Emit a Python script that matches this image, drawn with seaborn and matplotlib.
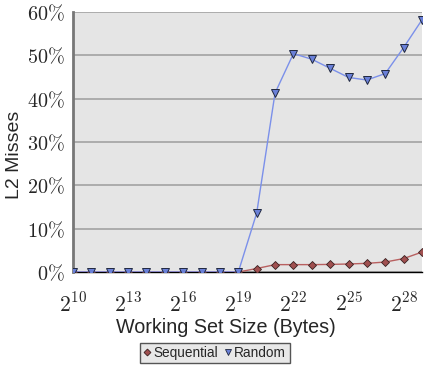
import matplotlib
matplotlib.use("Agg")
import matplotlib.pyplot as plt
import matplotlib.ticker as mticker
import seaborn as sns
import pandas as pd
import numpy as np

exponents = list(range(10, 30))
sequential = [0, 0, 0, 0, 0, 0, 0, 0, 0, 0,
              0.8, 1.7, 1.7, 1.7, 1.75, 1.85, 2.0, 2.3, 3.1, 4.6]
random_ = [0, 0, 0, 0, 0, 0, 0, 0, 0, 0,
           13.6, 41.3, 50.4, 49.1, 47.0, 44.9, 44.3, 45.8, 51.8, 58.2]
major_exps = [10, 13, 16, 19, 22, 25, 28]
y_ticks = [0, 10, 20, 30, 40, 50, 60]

sns.set_style("white")
plt.rcParams['mathtext.fontset'] = 'cm'
plt.rcParams['font.family'] = ['Liberation Sans', 'DejaVu Sans']

sizes = [2.0 ** e for e in exponents]
df_seq = pd.DataFrame({"size": sizes, "miss": sequential})
df_rnd = pd.DataFrame({"size": sizes, "miss": random_})

fig = plt.figure(figsize=(4.32, 3.74), dpi=100)
ax = fig.add_axes([73 / 432, 1 - 272 / 374, 349 / 432, 260 / 374])
ax.set_facecolor("#e5e5e5")

sns.lineplot(data=df_seq, x="size", y="miss", ax=ax, color="#b86060", lw=1,
             marker="D", markersize=4, markerfacecolor="#a05050",
             markeredgecolor="#3a2020", markeredgewidth=0.6, label="Sequential",
             zorder=3)
sns.lineplot(data=df_rnd, x="size", y="miss", ax=ax, color="#7b90ea", lw=1,
             marker="v", markersize=5.5, markerfacecolor="#6a80d8",
             markeredgecolor="#202840", markeredgewidth=0.7, label="Random",
             zorder=4)

ax.set_xscale("log", base=2)
ax.set_xlim(2.0 ** 10, 2.0 ** 29)
ax.set_ylim(0, 60)
ax.set_xticks([2.0 ** e for e in major_exps])
ax.set_xticklabels([r"$2^{%d}$" % e for e in major_exps], fontsize=15.5)
ax.xaxis.set_minor_locator(mticker.FixedLocator([2.0 ** e for e in exponents]))
ax.xaxis.set_minor_formatter(mticker.NullFormatter())
ax.set_yticks(y_ticks)
ax.set_yticklabels([r"$%d\%%$" % v for v in y_ticks], fontsize=14.5)

ax.tick_params(axis="x", which="major", direction="out", length=12, width=1.5,
               color="#222222", pad=3)
ax.tick_params(axis="x", which="minor", direction="out", length=6, width=1.2,
               color="#222222")
ax.tick_params(axis="y", length=0, pad=6)

ax.yaxis.grid(True, color="#a8a8a8", lw=1.3)
ax.set_axisbelow(True)
for s in ["top", "right"]:
    ax.spines[s].set_visible(False)
ax.spines["left"].set_color("#777777")
ax.spines["left"].set_linewidth(2)
ax.spines["bottom"].set_color("#000000")
ax.spines["bottom"].set_linewidth(1)
ax.spines["bottom"].set_zorder(2)

ax.set_xlabel("Working Set Size (Bytes)", fontsize=14.2, labelpad=1, x=0.438)
ax.set_ylabel("L2 Misses", fontsize=14, labelpad=3, y=0.45)

handles = [
    plt.Line2D([], [], ls="none", marker="D", markersize=3.5, markerfacecolor="#a05050",
               markeredgecolor="#3a2020", markeredgewidth=0.6),
    plt.Line2D([], [], ls="none", marker="v", markersize=5, markerfacecolor="#6a80d8",
               markeredgecolor="#202840", markeredgewidth=0.6),
]
leg = ax.legend(handles, ["Sequential", "Random"], loc="center",
                bbox_to_anchor=(215 / 432, 1 - 353 / 374), bbox_transform=fig.transFigure,
                ncol=2, frameon=True, fancybox=False, fontsize=9.8,
                handlelength=0.5, handletextpad=0.2, columnspacing=0.5,
                borderpad=0.25, borderaxespad=0)
leg.get_frame().set_facecolor("#e8e8e8")
leg.get_frame().set_edgecolor("#555555")
leg.get_frame().set_linewidth(1)
leg.get_frame().set_alpha(1)

fig.savefig("out.png", dpi=100)
